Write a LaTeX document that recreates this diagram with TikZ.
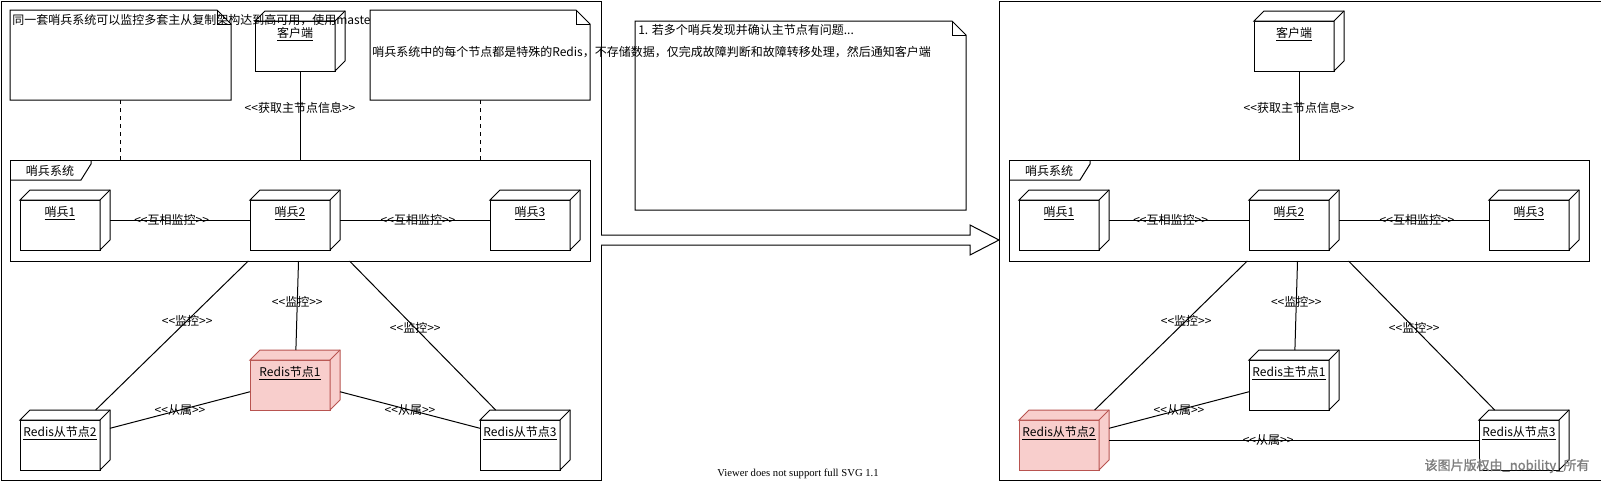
\documentclass[tikz,border=0pt]{standalone}
\usepackage{fontspec}
\setmainfont{Noto Sans CJK SC}
\newfontfamily\viewerfont{Liberation Serif}
\newfontfamily\wmfont{Noto Sans CJK SC}[FakeBold=1.2]
\definecolor{pinkfill}{HTML}{F8CECC}
\definecolor{pinkline}{HTML}{B85450}
\definecolor{wmgray}{HTML}{7E7E7E}
\newcommand\sopen{<{}<}
\newcommand\sclose{>{}>}
\tikzset{
  ln/.style={draw=black, line width=0.75pt},
  udface/.style={ln, fill=white, line join=miter},
  pinkbox/.style={fill=pinkfill, draw=pinkline},
  hold/.style={inner sep=0pt, outer sep=0pt, draw=none, rectangle},
  lbl/.style={font=\fontsize{9}{11}\selectfont, inner sep=0pt},
  elbl/.style={font=\fontsize{9}{11}\selectfont, inner sep=1pt},
  dashln/.style={ln, dash pattern=on 3pt off 3pt},
}
% 3D UML node: #1 name, #2 x0, #3 y0, #4 w, #5 h, #6 label, #7 extra style
\newcommand\udnode[7]{%
  \draw[udface,#7] (#2,#3+10) rectangle (#2+#4-10,#3+#5);
  \draw[udface,#7] (#2,#3+10) -- (#2+10,#3) -- (#2+#4,#3) -- (#2+#4,#3+#5-10) -- (#2+#4-10,#3+#5) -- (#2+#4-10,#3+10) -- cycle;
  \draw[udface,#7] (#2+#4-10,#3+10) -- (#2+#4,#3);
  \node[hold, minimum width=#4*0.75pt, minimum height=#5*0.75pt] (#1) at (#2+#4/2,#3+#5/2) {};
  \node[lbl] (#1t) at (#2+#4/2-5,#3+23) {\underline{#6}};
}
% note: #1 name, #2 x0, #3 y0, #4 x1, #5 y1
\newcommand\notebox[5]{%
  \draw[ln, fill=white] (#2,#3) -- (#4-14,#3) -- (#4,#3+14) -- (#4,#5) -- (#2,#5) -- cycle;
  \draw[ln] (#4-14,#3) -- (#4-14,#3+14) -- (#4,#3+14);
  \node[hold, minimum width=(#4-#2)*0.75pt, minimum height=(#5-#3)*0.75pt] (#1) at ({(#2+#4)/2},{(#3+#5)/2}) {};
}
\begin{document}
\begin{tikzpicture}[x=0.75pt,y=-0.75pt]
\useasboundingbox (0,0) rectangle (1601,482);
\clip (0,0) rectangle (1601,482);
\fill[white] (0,0) rectangle (1601,482);

% outer panels
\draw[ln] (1,1) rectangle (601,480);
\draw[ln] (999,1) rectangle (1603,480);

% big transition arrow
\draw[ln, fill=white, line join=miter] (601,235) -- (970,235) -- (970,225) -- (999,240) -- (970,255) -- (970,245) -- (601,245);

% ================= LEFT PANEL =================
\notebox{n1}{10}{10}{231}{100}
\udnode{cl}{255}{11}{90}{60}{客户端}{}
\node[lbl, anchor=west] (n1t) at (12,20) {同一套哨兵系统可以监控多套主从复制架构达到高可用，使用master};
\notebox{n2}{370}{10}{590}{100}

% sentinel frame
\node[hold, minimum width=580*0.75pt, minimum height=101*0.75pt] (fr) at (300,210.5) {};
\draw[ln] (fr.north west) rectangle (fr.south east);
\draw[ln] (10,180) -- (81,180) -- (91,164) -- (91,160);
\node[lbl] (frt) at (50,170.5) {哨兵系统};

\udnode{s1}{20}{190}{90}{60}{哨兵1}{}
\udnode{s2}{250}{190}{90}{60}{哨兵2}{}
\udnode{s3}{490}{190}{90}{60}{哨兵3}{}
\udnode{r1}{250}{350}{90}{60}{Redis节点1}{pinkbox}
\udnode{r2}{20}{410}{90}{60}{Redis从节点2}{}
\udnode{r3}{480}{410}{90}{60}{Redis从节点3}{}

\draw[dashln] (n1.south) -- (n1.south |- fr.north);
\draw[dashln] (n2.south) -- (n2.south |- fr.north);
\draw[ln] (cl) -- node[elbl, pos=0.42] (le1) {\sopen 获取主节点信息\sclose} (fr);
\draw[ln] (s1) -- node[elbl, pos=0.44] (le2) {\sopen 互相监控\sclose} (s2);
\draw[ln] (s2) -- node[elbl, pos=0.52] (le3) {\sopen 互相监控\sclose} (s3);
\draw[ln] (fr) -- node[elbl, pos=0.40] (le4) {\sopen 监控\sclose} (r2);
\draw[ln] (fr) -- node[elbl, pos=0.46] (le5) {\sopen 监控\sclose} (r1);
\draw[ln] (fr) -- node[elbl, pos=0.45] (le6) {\sopen 监控\sclose} (r3);
\draw[ln] (r1) -- node[elbl, pos=0.5] (le7) {\sopen 从属\sclose} (r2);
\draw[ln] (r1) -- node[elbl, pos=0.5] (le8) {\sopen 从属\sclose} (r3);

% middle note
\notebox{n3}{635}{21}{966}{210}
\node[lbl, anchor=west] (n3t) at (638,30) {1. 若多个哨兵发现并确认主节点有问题...};
\node[lbl, anchor=west] (n2t) at (372,52) {哨兵系统中的每个节点都是特殊的Redis，不存储数据，仅完成故障判断和故障转移处理，然后通知客户端};

% ================= RIGHT PANEL =================
\udnode{clb}{1254}{11}{90}{60}{客户端}{}
\node[hold, minimum width=580*0.75pt, minimum height=101*0.75pt] (frb) at (1299,210.5) {};
\draw[ln] (frb.north west) rectangle (frb.south east);
\draw[ln] (1009,180) -- (1080,180) -- (1090,164) -- (1090,160);
\node[lbl] (frbt) at (1049,170.5) {哨兵系统};

\udnode{s1b}{1019}{190}{90}{60}{哨兵1}{}
\udnode{s2b}{1249}{190}{90}{60}{哨兵2}{}
\udnode{s3b}{1489}{190}{90}{60}{哨兵3}{}
\udnode{r1b}{1249}{350}{90}{60}{Redis主节点1}{}
\udnode{r2b}{1019}{410}{90}{60}{Redis从节点2}{pinkbox}
\udnode{r3b}{1479}{410}{90}{60}{Redis从节点3}{}

\draw[ln] (clb) -- node[elbl, pos=0.42] (re1) {\sopen 获取主节点信息\sclose} (frb);
\draw[ln] (s1b) -- node[elbl, pos=0.44] (re2) {\sopen 互相监控\sclose} (s2b);
\draw[ln] (s2b) -- node[elbl, pos=0.52] (re3) {\sopen 互相监控\sclose} (s3b);
\draw[ln] (frb) -- node[elbl, pos=0.40] (re4) {\sopen 监控\sclose} (r2b);
\draw[ln] (frb) -- node[elbl, pos=0.46] (re5) {\sopen 监控\sclose} (r1b);
\draw[ln] (frb) -- node[elbl, pos=0.45] (re6) {\sopen 监控\sclose} (r3b);
\draw[ln] (r1b) -- node[elbl, pos=0.5] (re7) {\sopen 从属\sclose} (r2b);
\draw[ln] (r2b) -- node[elbl, pos=0.43] (re8) {\sopen 从属\sclose} (r3b);

% footer texts
\node[font=\viewerfont\fontsize{8}{10}\selectfont, inner sep=0pt] (vw) at (798,474) {Viewer does not support full SVG 1.1};
\node[font=\wmfont\fontsize{9.75}{12}\selectfont, text=wmgray, inner sep=0pt] (wm) at (1507,466) {该图片版权由\_nobility\_所有};
\end{tikzpicture}
\end{document}
